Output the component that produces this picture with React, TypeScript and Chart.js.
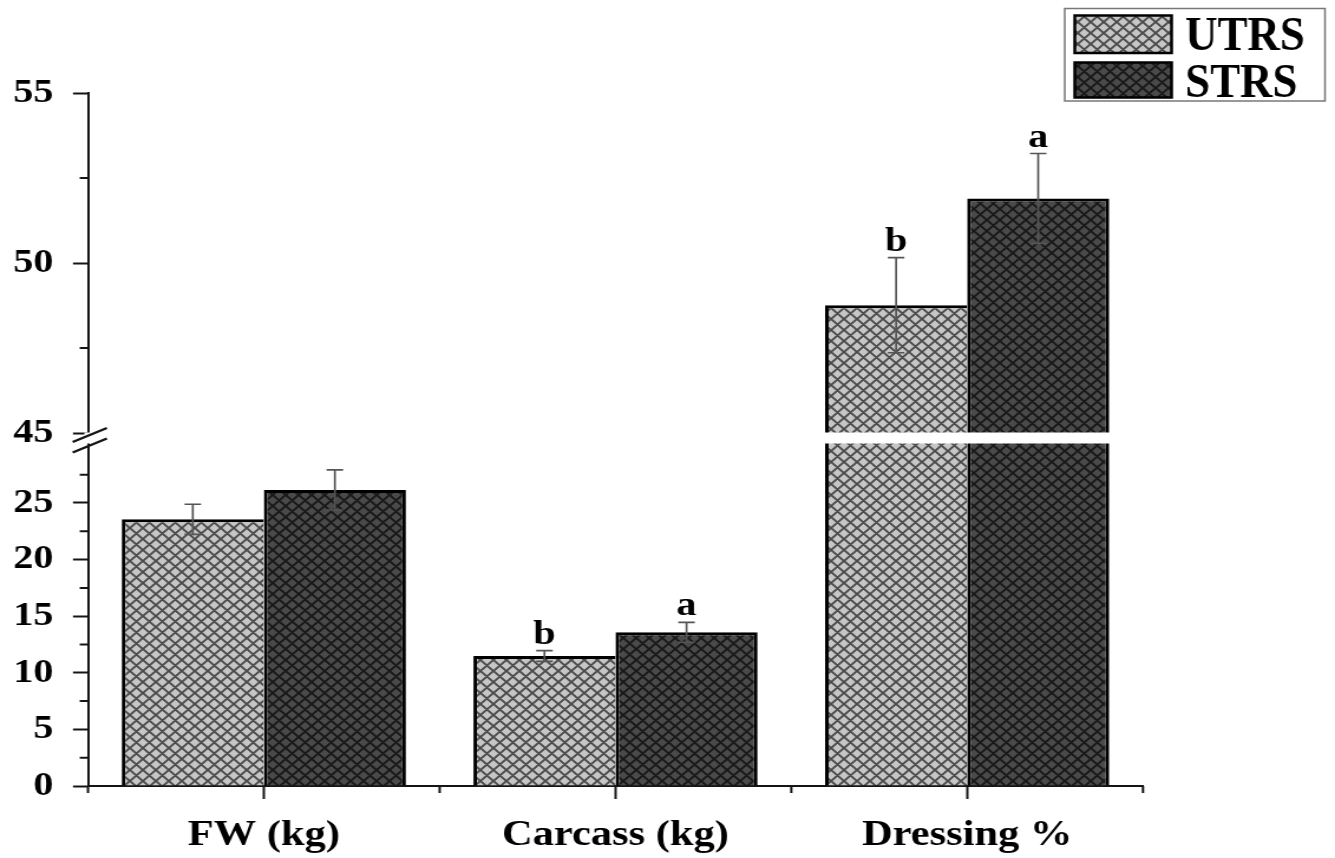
import React, { useEffect, useRef } from 'react';
import { Chart, registerables } from 'chart.js';

Chart.register(...registerables);

// ---------- data ----------
const categories = ['FW (kg)', 'Carcass (kg)', 'Dressing %'];
const seriesNames = ['UTRS', 'STRS'];
const utrsValues = [23.56, 11.48, 48.76];
const strsValues = [26.15, 13.58, 51.9];
const utrsErrors = [1.33, 0.47, 1.4];
const strsErrors = [1.77, 0.88, 1.32];
const utrsLetters = ['', 'b', 'b'];
const strsLetters = ['', 'a', 'a'];
const lowerTicks = [0, 5, 10, 15, 20, 25];
const lowerMinorTicks = [2.5, 7.5, 12.5, 17.5, 22.5, 27.5];
const upperTicks = [45, 50, 55];
const upperMinorTicks = [47.5, 52.5];
const lowerRange = [0, 30.74];
const upperRange = [44.853, 55];

// ---------- layout ----------
const SX = 1.1804; // horizontal stretch of the picture
const CW = 1131;
const CH = 858;
const FONT = '"Liberation Serif", "Times New Roman", serif';
const AXIS = '#151515';

function makePattern(ctx: CanvasRenderingContext2D, bg: string, line: string, lw: number) {
  const s = 11;
  const c = document.createElement('canvas');
  c.width = s;
  c.height = s;
  const g = c.getContext('2d') as CanvasRenderingContext2D;
  g.fillStyle = bg;
  g.fillRect(0, 0, s, s);
  g.strokeStyle = line;
  g.lineWidth = lw;
  g.beginPath();
  for (const o of [-s, 0, s]) {
    g.moveTo(o - 2, -2);
    g.lineTo(o + s + 2, s + 2);
    g.moveTo(o + s + 2, -2);
    g.lineTo(o - 2, s + 2);
  }
  g.stroke();
  return ctx.createPattern(c, 'repeat') as CanvasPattern;
}

export default function App() {
  const ref = useRef<HTMLCanvasElement>(null);

  useEffect(() => {
    const canvas = ref.current as HTMLCanvasElement;
    const ctx0 = canvas.getContext('2d') as CanvasRenderingContext2D;
    const patU = makePattern(ctx0, '#c6c6c6', '#4a4a4a', 1.9);
    const patS = makePattern(ctx0, '#4a4a4a', '#181818', 1.9);
    const fills = [patU, patS];
    const values = [utrsValues, strsValues];
    const errors = [utrsErrors, strsErrors];
    const letters = [utrsLetters, strsLetters];

    const clipPlugin = {
      id: 'scaleClip',
      beforeDatasetDraw(chart: any, args: any) {
        const ys = chart.scales[args.meta.yAxisID];
        const ctx = chart.ctx;
        ctx.save();
        ctx.beginPath();
        ctx.rect(chart.chartArea.left, ys.top, chart.chartArea.right - chart.chartArea.left, ys.bottom - ys.top);
        ctx.clip();
      },
      afterDatasetDraw(chart: any) {
        chart.ctx.restore();
      },
    };

    const decorPlugin = {
      id: 'decor',
      afterDraw(chart: any) {
        const ctx = chart.ctx as CanvasRenderingContext2D;
        const yLow = chart.scales.yLow;
        const yHigh = chart.scales.yHigh;
        const xs = chart.scales.x;
        const area = chart.chartArea;
        const ax = area.left;

        ctx.save();
        // minor y ticks
        ctx.strokeStyle = AXIS;
        ctx.lineWidth = 2;
        ctx.beginPath();
        for (const v of lowerMinorTicks) {
          const y = yLow.getPixelForValue(v);
          ctx.moveTo(ax - 7, y);
          ctx.lineTo(ax, y);
        }
        for (const v of upperMinorTicks) {
          const y = yHigh.getPixelForValue(v);
          ctx.moveTo(ax - 7, y);
          ctx.lineTo(ax, y);
        }
        // minor x ticks at category boundaries
        for (let i = 0; i <= categories.length; i++) {
          const x = xs.getPixelForValue(i - 0.5);
          ctx.moveTo(x, area.bottom);
          ctx.lineTo(x, area.bottom + 7);
        }
        // y axis below x axis
        ctx.moveTo(ax, area.bottom);
        ctx.lineTo(ax, area.bottom + 7);
        ctx.stroke();

        // error bars + letters
        for (let s = 0; s < 2; s++) {
          const meta = chart.getDatasetMeta(s);
          for (let i = 0; i < categories.length; i++) {
            const v = values[s][i];
            const e = errors[s][i];
            const sc = v <= lowerRange[1] ? yLow : yHigh;
            const x = meta.data[i].x;
            const yt = sc.getPixelForValue(v + e);
            const yb = sc.getPixelForValue(v - e);
            ctx.strokeStyle = '#555';
            ctx.lineWidth = 1.7;
            ctx.beginPath();
            ctx.moveTo(x, yt);
            ctx.lineTo(x, yb);
            ctx.moveTo(x - 7, yt);
            ctx.lineTo(x + 7, yt);
            ctx.moveTo(x - 7, yb);
            ctx.lineTo(x + 7, yb);
            ctx.stroke();
            if (letters[s][i]) {
              ctx.fillStyle = '#000';
              ctx.font = `bold 34px ${FONT}`;
              ctx.textAlign = 'center';
              ctx.textBaseline = 'alphabetic';
              ctx.fillText(letters[s][i], x, yt - 7);
            }
          }
        }

        // axis break
        const gapTop = 432.5;
        const gapBot = 443.5;
        ctx.fillStyle = '#fff';
        ctx.fillRect(ax - 3, gapTop, area.right - ax + 6, gapBot - gapTop);
        ctx.strokeStyle = AXIS;
        ctx.lineWidth = 2.4;
        ctx.beginPath();
        for (const cy of [435, 445.5]) {
          ctx.moveTo(ax - 13, cy + 7);
          ctx.lineTo(ax + 16, cy - 7);
        }
        ctx.stroke();

        // legend
        ctx.strokeStyle = '#777';
        ctx.lineWidth = 1.5;
        ctx.strokeRect(902, 8.5, 220.5, 92.5);
        const sw = [
          [910.5, 15.5, 82, 37.5],
          [910.5, 62.5, 82, 35],
        ];
        const baselines = [50, 97];
        for (let s = 0; s < 2; s++) {
          const [x, y, w, h] = sw[s];
          ctx.fillStyle = fills[s];
          ctx.fillRect(x, y, w, h);
          ctx.strokeStyle = '#000';
          ctx.lineWidth = 2.5;
          ctx.strokeRect(x, y, w, h);
          ctx.save();
          ctx.translate(1004, baselines[s]);
          ctx.scale(1, 1.25);
          ctx.fillStyle = '#000';
          ctx.font = `bold 38px ${FONT}`;
          ctx.textAlign = 'left';
          ctx.textBaseline = 'alphabetic';
          ctx.fillText(seriesNames[s], 0, 0);
          ctx.restore();
        }
        ctx.restore();
      },
    };

    const barStyle = (s: number) => ({
      backgroundColor: fills[s],
      borderColor: '#000',
      borderWidth: s === 0 ? { top: 3, left: 3, right: 0, bottom: 0 } : { top: 3, left: 3, right: 3, bottom: 0 },
      borderSkipped: 'start' as const,
      categoryPercentage: 0.808,
      barPercentage: 1,
      clip: false as any,
    });

    const yFont = { family: FONT, size: 34, weight: 'bold' as const };
    const xFont = { family: FONT, size: 36, weight: 'bold' as const };

    const chart = new Chart(canvas, {
      type: 'bar',
      data: {
        labels: categories,
        datasets: [
          { label: seriesNames[0], data: utrsValues, yAxisID: 'yLow', stack: 'u', ...barStyle(0) },
          { label: seriesNames[1], data: strsValues, yAxisID: 'yLow', stack: 's', ...barStyle(1) },
          { label: seriesNames[0], data: utrsValues, yAxisID: 'yHigh', stack: 'u', ...barStyle(0) },
          { label: seriesNames[1], data: strsValues, yAxisID: 'yHigh', stack: 's', ...barStyle(1) },
        ],
      },
      options: {
        responsive: false,
        animation: false,
        events: [],
        layout: { padding: { left: 0, right: CW - 968.3, top: 93, bottom: 0 } },
        plugins: { legend: { display: false }, tooltip: { enabled: false } },
        scales: {
          x: {
            type: 'category',
            offset: true,
            grid: { offset: false, drawOnChartArea: false, tickLength: 13, tickWidth: 2, tickColor: AXIS },
            border: { display: true, color: AXIS, width: 2 },
            ticks: { font: xFont, color: '#000', padding: 15, maxRotation: 0, autoSkip: false },
            afterFit: (s: any) => { s.height = CH - 786; },
          },
          yLow: {
            type: 'linear',
            position: 'left',
            stack: 'v',
            stackWeight: 348,
            stacked: false,
            min: lowerRange[0],
            max: lowerRange[1],
            afterBuildTicks: (s: any) => { s.ticks = lowerTicks.map((v) => ({ value: v })); },
            afterFit: (s: any) => { s.width = 74.55; },
            grid: { drawOnChartArea: false, tickLength: 12.7, tickWidth: 2, tickColor: AXIS },
            border: { display: true, color: AXIS, width: 2 },
            ticks: { font: yFont, color: '#000', padding: 16.5, autoSkip: false },
          },
          yHigh: {
            type: 'linear',
            position: 'left',
            stack: 'v',
            stackWeight: 345,
            stacked: false,
            min: upperRange[0],
            max: upperRange[1],
            afterBuildTicks: (s: any) => { s.ticks = upperTicks.map((v) => ({ value: v })); },
            afterFit: (s: any) => { s.width = 74.55; },
            grid: { drawOnChartArea: false, tickLength: 12.7, tickWidth: 2, tickColor: AXIS },
            border: { display: true, color: AXIS, width: 2 },
            ticks: { font: yFont, color: '#000', padding: 16.5, autoSkip: false },
          },
        },
      } as any,
      plugins: [clipPlugin, decorPlugin],
    });

    return () => chart.destroy();
  }, []);

  return (
    <div
      style={{
        position: 'fixed',
        left: 0,
        top: 0,
        width: 1335,
        height: CH,
        overflow: 'hidden',
        background: '#fff',
      }}
    >
      <canvas
        ref={ref}
        width={CW}
        height={CH}
        style={{ display: 'block', transform: `scaleX(${SX})`, transformOrigin: '0 0' }}
      />
    </div>
  );
}
